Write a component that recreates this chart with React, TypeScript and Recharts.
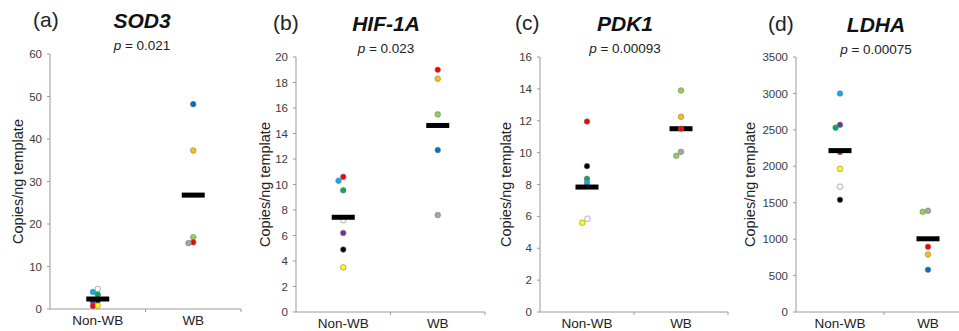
import React from "react";
import { ScatterChart, Scatter, XAxis, YAxis } from "recharts";

const categories = ["Non-WB", "WB"];
const panelTags = ["(a)", "(b)", "(c)", "(d)"];
const genes = ["SOD3", "HIF-1A", "PDK1", "LDHA"];
const pValues = ["0.021", "0.023", "0.00093", "0.00075"];

// sample colours (Excel palette)
const red = "#ff0000";
const ltblue = "#00b0f0";
const blue = "#0070c0";
const green = "#00b050";
const ltgreen = "#92d050";
const orange = "#ffc000";
const yellow = "#ffff00";
const purple = "#7030a0";
const black = "#000000";
const white = "#ffffff";
const gray = "#a6a6a6";

// (a) SOD3
const sod3Ticks = [0, 10, 20, 30, 40, 50, 60];
const sod3NonWB = [2.0, 4.0, 4.7, 3.4, 1.7, 0.7, 0.8];
const sod3NonWBColors = [black, ltblue, white, green, purple, red, yellow];
const sod3NonWBJitter = [0, -0.05, 0, 0, -0.05, -0.05, 0];
const sod3WB = [48.2, 37.3, 16.9, 15.7, 15.5];
const sod3WBColors = [blue, orange, ltgreen, red, gray];
const sod3WBJitter = [0, 0, 0, 0, -0.05];
const sod3Means = [2.35, 26.8];

// (b) HIF-1A
const hifTicks = [0, 2, 4, 6, 8, 10, 12, 14, 16, 18, 20];
const hifNonWB = [10.6, 10.3, 9.55, 7.2, 6.2, 4.9, 3.5];
const hifNonWBColors = [red, ltblue, green, white, purple, black, yellow];
const hifNonWBJitter = [0, -0.05, 0, 0, 0, 0, 0];
const hifWB = [19.0, 18.3, 15.5, 12.7, 7.6];
const hifWBColors = [red, orange, ltgreen, blue, gray];
const hifWBJitter = [0, 0, 0, 0, 0];
const hifMeans = [7.43, 14.63];

// (c) PDK1
const pdkTicks = [0, 2, 4, 6, 8, 10, 12, 14, 16];
const pdkNonWB = [11.95, 9.15, 8.35, 8.1, 5.85, 5.6];
const pdkNonWBColors = [red, black, green, ltblue, white, yellow];
const pdkNonWBJitter = [0, 0, 0, 0, 0.005, -0.05];
const pdkWB = [13.9, 12.25, 11.5, 10.05, 9.8];
const pdkWBColors = [ltgreen, orange, red, gray, ltgreen];
const pdkWBJitter = [0, 0, 0, 0, -0.05];
const pdkMeans = [7.84, 11.5];

// (d) LDHA
const ldhaTicks = [0, 500, 1000, 1500, 2000, 2500, 3000, 3500];
const ldhaNonWB = [2998, 2570, 2530, 2196, 1965, 1720, 1540];
const ldhaNonWBColors = [ltblue, purple, green, red, yellow, white, black];
const ldhaNonWBJitter = [0, 0, -0.05, 0, 0, 0, 0];
const ldhaWB = [1390, 1375, 895, 790, 580];
const ldhaWBColors = [gray, ltgreen, red, orange, blue];
const ldhaWBJitter = [0, -0.06, 0, 0, 0];
const ldhaMeans = [2215, 1005];

const panels = [
  { ticks: sod3Ticks, nonWB: sod3NonWB, nonWBColors: sod3NonWBColors, nonWBJitter: sod3NonWBJitter, wb: sod3WB, wbColors: sod3WBColors, wbJitter: sod3WBJitter, means: sod3Means },
  { ticks: hifTicks, nonWB: hifNonWB, nonWBColors: hifNonWBColors, nonWBJitter: hifNonWBJitter, wb: hifWB, wbColors: hifWBColors, wbJitter: hifWBJitter, means: hifMeans },
  { ticks: pdkTicks, nonWB: pdkNonWB, nonWBColors: pdkNonWBColors, nonWBJitter: pdkNonWBJitter, wb: pdkWB, wbColors: pdkWBColors, wbJitter: pdkWBJitter, means: pdkMeans },
  { ticks: ldhaTicks, nonWB: ldhaNonWB, nonWBColors: ldhaNonWBColors, nonWBJitter: ldhaNonWBJitter, wb: ldhaWB, wbColors: ldhaWBColors, wbJitter: ldhaWBJitter, means: ldhaMeans },
];

// where each small chart sits on the page
const layout = [
  { left: 49.5, band: 95.5, top: 54, bottom: 309, tagX: 33, titleX: 142, labelX: 22.5, titleY: 28 },
  { left: 295.5, band: 94.5, top: 57, bottom: 312, tagX: 273, titleX: 386, labelX: 269.5, titleY: 31 },
  { left: 539.5, band: 94, top: 57, bottom: 312, tagX: 515, titleX: 625, labelX: 511, titleY: 31 },
  { left: 795.5, band: 88, top: 57, bottom: 312, tagX: 768, titleX: 876, labelX: 755, titleY: 32 },
];

const FONT = "'Liberation Sans', Arial, sans-serif";
const AXIS = "#9a9a9a";
const Y_AXIS_W = 50;

const toPoints = (values: number[], colors: string[], jitter: number[], cat: number) =>
  values.map((v, i) => ({ x: cat + 0.5 + jitter[i], y: v, color: colors[i] }));

const Dot = (props: any) => {
  const { cx, cy, payload } = props;
  return <circle cx={cx} cy={cy} r={2.8} fill={payload.color} stroke="#7a7a7a" strokeWidth={0.6} />;
};

const MeanBar = (props: any) => {
  const { cx, cy } = props;
  return <rect x={cx - 11.5} y={cy - 2.5} width={23} height={5} fill="#000" />;
};

const CategoryTick = (props: any) => {
  const { x, y, payload } = props;
  if (payload.value === 0.5 || payload.value === 1.5) {
    return (
      <text x={x} y={y + 16} textAnchor="middle" fontSize={13.5} fontFamily={FONT} fill="#222">
        {categories[Math.floor(payload.value)]}
      </text>
    );
  }
  return <line x1={x} x2={x} y1={y} y2={y + 3} stroke={AXIS} strokeWidth={1} />;
};

const Panel = ({ idx }: { idx: number }) => {
  const p = panels[idx];
  const l = layout[idx];
  const width = Y_AXIS_W + 2 * l.band + 2;
  const height = l.bottom + 22;
  const nonWB = toPoints(p.nonWB, p.nonWBColors, p.nonWBJitter, 0);
  const wb = toPoints(p.wb, p.wbColors, p.wbJitter, 1);
  const means = p.means.map((m, i) => ({ x: i + 0.5, y: m }));
  const yMax = p.ticks[p.ticks.length - 1];
  return (
    <div style={{ position: "absolute", left: l.left - Y_AXIS_W, top: 0 }}>
      <ScatterChart width={width} height={height} margin={{ top: l.top, right: 2, bottom: 0, left: 0 }}>
        <XAxis
          type="number"
          dataKey="x"
          domain={[0, 2]}
          ticks={[0.5, 1, 1.5, 2]}
          interval={0}
          height={22}
          stroke={AXIS}
          tickSize={0}
          tickMargin={0}
          tick={<CategoryTick />}
          allowDataOverflow
        />
        <YAxis
          type="number"
          dataKey="y"
          domain={[0, yMax]}
          ticks={p.ticks}
          interval={0}
          width={Y_AXIS_W}
          stroke={AXIS}
          tickSize={3}
          tickMargin={5}
          tick={{ fontSize: 11.5, fill: "#3a3a3a", fontFamily: FONT }}
          allowDataOverflow
        />
        <Scatter data={nonWB} shape={<Dot />} isAnimationActive={false} />
        <Scatter data={means} shape={<MeanBar />} isAnimationActive={false} />
        <Scatter data={wb} shape={<Dot />} isAnimationActive={false} />
      </ScatterChart>
    </div>
  );
};

const App = () => {
  return (
    <div
      style={{
        position: "absolute",
        left: 0,
        top: 0,
        width: 959,
        height: 331,
        overflow: "hidden",
        background: "#fff",
        fontFamily: FONT,
      }}
    >
      {panels.map((_, i) => (
        <Panel key={i} idx={i} />
      ))}
      <svg width={959} height={331} style={{ position: "absolute", left: 0, top: 0, pointerEvents: "none" }}>
        {layout.map((l, i) => {
          const midY = (l.top + l.bottom) / 2;
          return (
            <g key={i} fontFamily={FONT}>
              <text x={l.tagX} y={l.titleY - 1} fontSize={21} fill="#222">
                {panelTags[i]}
              </text>
              <text x={l.titleX} y={l.titleY} fontSize={21} fontWeight="bold" fontStyle="italic" textAnchor="middle" fill="#111">
                {genes[i]}
              </text>
              <text x={l.titleX} y={l.titleY + 22} fontSize={13.5} textAnchor="middle" fill="#222">
                <tspan fontStyle="italic">p</tspan>
                {" = " + pValues[i]}
              </text>
              <text
                x={l.labelX}
                y={midY}
                fontSize={14.5}
                textAnchor="middle"
                fill="#222"
                transform={`rotate(-90 ${l.labelX} ${midY})`}
              >
                Copies/ng template
              </text>
            </g>
          );
        })}
      </svg>
    </div>
  );
};

export default App;
